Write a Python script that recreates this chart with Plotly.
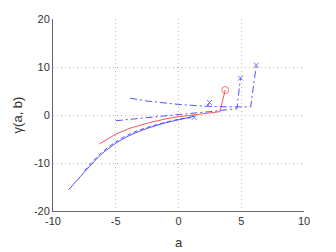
import plotly.graph_objects as go

# Blue solid curve
blue_solid_x = [-8.76, -7.6, -6.2, -5.0, -3.85, -2.5, -1.0, 0.0, 1.3]
blue_solid_y = [-15.6, -12.2, -8.3, -5.9, -4.2, -2.8, -1.6, -1.0, -0.2]

# Blue dashed curve (x marker at end)
blue_dash_x = [-7.5, -6.2, -5.0, -3.85, -2.5, -1.0, 0.0, 1.25]
blue_dash_y = [-11.6, -8.0, -5.6, -3.9, -2.6, -1.5, -0.9, -0.5]

# Red solid curve (circle marker at end)
red_x = [-6.3, -5.0, -3.8, -2.5, -1.0, 0.0, 1.5, 3.3, 3.72]
red_y = [-6.0, -4.0, -2.7, -1.7, -0.8, -0.35, 0.1, 0.7, 5.2]

# Blue dash-dot curves (x markers at end)
dd1_x = [-5.0, -2.5, 0.0, 2.5, 4.65, 4.94]
dd1_y = [-1.2, -0.5, 0.1, 0.7, 1.3, 7.7]

dd2_x = [-3.85, -2.5, 0.0, 2.3, 4.0, 5.75, 6.2]
dd2_y = [3.5, 2.9, 2.2, 1.8, 1.7, 1.7, 10.4]

dd3_x = [2.3, 2.47]
dd3_y = [1.8, 2.6]

x_ticks = [-10, -5, 0, 5, 10]
y_ticks = [-20, -10, 0, 10, 20]

BLUE = "#4040ff"
RED = "#ff4040"

fig = go.Figure()

def add_line(x, y, color, dash, marker=None, msize=5, shape="linear"):
    n = len(x)
    sizes = [0] * (n - 1) + [msize]
    fig.add_trace(go.Scatter(
        x=x, y=y, mode="lines+markers" if marker else "lines",
        line=dict(color=color, width=0.9, dash=dash, shape=shape,
                  smoothing=0.8 if shape == "spline" else None),
        marker=dict(symbol=marker or "circle", size=sizes, color=color,
                    line=dict(color=color, width=1)) if marker else None,
        showlegend=False, hoverinfo="skip"))

add_line(blue_solid_x, blue_solid_y, BLUE, "solid", shape="spline")
add_line(blue_dash_x, blue_dash_y, BLUE, "4px,3px", "x-thin", 5, shape="spline")
add_line(red_x, red_y, RED, "solid", "circle-open", 7)
add_line(dd1_x, dd1_y, BLUE, "7px,3px,2px,3px", "x-thin", 5)
add_line(dd2_x, dd2_y, BLUE, "7px,3px,2px,3px", "x-thin", 5)
add_line(dd3_x, dd3_y, BLUE, "7px,3px,2px,3px", "x-thin", 5)

axis_common = dict(
    showline=True, linecolor="#666666", linewidth=1, mirror=False,
    showgrid=True, gridcolor="#bbbbbb", griddash="1px,3px", gridwidth=1,
    zeroline=False, ticks="", tickfont=dict(size=11, color="#333333"),
    automargin=False,
)

# page body has an 8px default margin, so the figure is sized to fill the rest
fig.update_layout(
    width=328, height=244,
    margin=dict(l=45, r=32, t=11, b=41),
    paper_bgcolor="white", plot_bgcolor="white",
    font=dict(family="Liberation Sans, Arial, sans-serif", size=11, color="#333333"),
    xaxis=dict(range=[-10, 10], tickvals=x_ticks, ticktext=[str(v) for v in x_ticks],
               title=dict(text="a", standoff=11), **axis_common),
    yaxis=dict(range=[-20, 20], tickvals=y_ticks, ticktext=[str(v) for v in y_ticks],
               title=dict(text="γ(a, b)", standoff=8), **axis_common),
)

fig.write_html("out.html")
